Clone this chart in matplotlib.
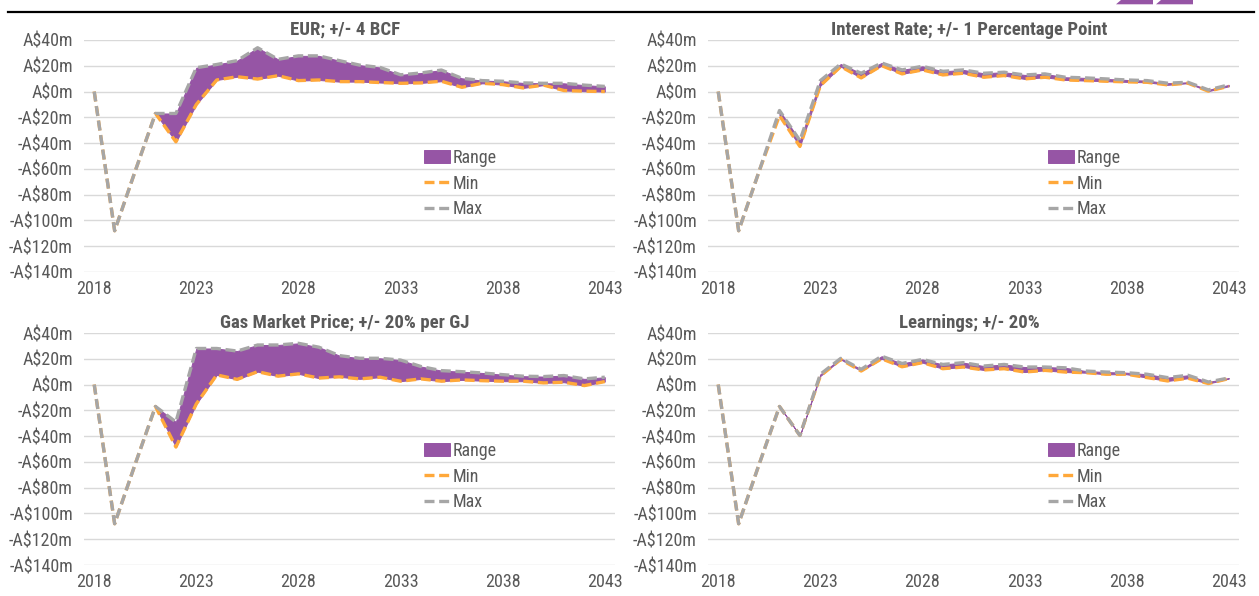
import matplotlib
matplotlib.use("Agg")
import matplotlib.pyplot as plt
from matplotlib import font_manager
from matplotlib.patches import Polygon
from matplotlib.lines import Line2D
from matplotlib.ticker import FuncFormatter, MultipleLocator

# ---------------- data ----------------
years = list(range(2018, 2044))
range_start = 2021  # first year of the sensitivity range series

eur_min = [0, -108, -62, -17, -39, -10, 9, 11.5, 9.7, 12.3, 8.5, 9, 7.7, 7.7, 7, 6.4,
           6.7, 8, 3.3, 6.4, 5.4, 2.8, 5, 0.8, 0.3, 0]
eur_max = [0, -108, -62, -17, -17, 18.5, 21, 24, 34, 25, 27.7, 27.7, 24, 20.5, 18.7, 13,
           14.4, 16.7, 10.3, 8.5, 8, 6.7, 6.4, 6.4, 5, 4]

rate_min = [0, -108, -62, -18.6, -42.6, 4.6, 19.4, 10.6, 20.1, 13.7, 16.8, 12.9, 14.2, 11.1,
            12.4, 9.8, 11.1, 9.0, 8.5, 8.0, 7.5, 7.2, 5.2, 6.5, 0.3, 4.1]
rate_max = [0, -108, -62, -14.7, -38, 8.5, 21.4, 14.2, 22.2, 16.8, 19.6, 15.7, 16.8, 14.2,
            15, 12.9, 13.7, 11.1, 10.6, 9.8, 9.0, 8.5, 6.5, 7.2, 1.3, 5.2]

gas_min = [0, -108, -62, -17, -48.5, -15, 7.5, 4, 10, 6.5, 8.3, 5, 6, 4.4, 5.7, 2.6,
           4.4, 2.6, 3.6, 3, 2.6, 2.6, 1.3, 1.8, -0.8, 2.3]
gas_max = [0, -108, -62, -17, -29, 28, 28, 26, 30.7, 30.7, 32, 29, 22.5, 20.4, 20.4, 19,
           14, 10.8, 10, 9, 7.7, 6.5, 6.2, 7, 4.4, 5.7]

learn_min = [0, -108, -62, -17, -39.5, 6.7, 19.5, 10.5, 20, 13.8, 17, 12.3, 13.6, 11.3,
             12.3, 9.7, 11, 9.7, 9.2, 8, 8, 5.4, 2.8, 4.9, 0.8, 4.6]
learn_max = [0, -108, -62, -17, -39.5, 8, 20.3, 11.8, 22, 16.4, 19.5, 15.6, 17, 14.4,
             15.6, 13.6, 13.6, 13, 10.5, 9.7, 9.2, 8, 5.4, 7.2, 2, 5.1]

titles = ["EUR; +/- 4 BCF", "Interest Rate; +/- 1 Percentage Point",
          "Gas Market Price; +/- 20% per GJ", "Learnings; +/- 20%"]
legend_labels = ["Range", "Min", "Max"]
x_ticks = [2018, 2023, 2028, 2033, 2038, 2043]

# ---------------- style ----------------
def pick_font():
    names = {f.name for f in font_manager.fontManager.ttflist}
    for n in ["Liberation Sans Narrow", "Arial Narrow", "Roboto Condensed",
              "Liberation Sans"]:
        if n in names:
            return n
    return "DejaVu Sans"

FONT = pick_font()
NARROW = FONT in ("Liberation Sans Narrow", "Arial Narrow", "Roboto Condensed")
FS = 13 if NARROW else 10.5
plt.rcParams["font.family"] = [FONT, "DejaVu Sans"]

PURPLE = "#9655A5"
ORANGE = "#FFA83A"
GRAY = "#A6A6A6"
TXT = "#595959"
GRID = "#D9D9D9"

W, H = 1259, 596
fig = plt.figure(figsize=(W / 100, H / 100), dpi=100)

# axes boxes in pixels: (left, top, right, bottom)
boxes = [(84, 40, 615, 272), (708, 40, 1239, 272),
         (84, 333, 615, 565), (708, 333, 1239, 565)]
series = [(eur_min, eur_max), (rate_min, rate_max),
          (gas_min, gas_max), (learn_min, learn_max)]


def fmt(v, pos):
    v = int(round(v))
    return f"A${v}m" if v >= 0 else f"-A${-v}m"


for (l, t, r, b), (smin, smax), title in zip(boxes, series, titles):
    ax = fig.add_axes([l / W, 1 - b / H, (r - l) / W, (b - t) / H])
    ax.set_xlim(2017.5, 2043.5)
    ax.set_ylim(-140, 40)
    ax.yaxis.set_major_locator(MultipleLocator(20))
    ax.yaxis.set_major_formatter(FuncFormatter(fmt))
    ax.set_xticks(x_ticks)
    ax.grid(axis="y", color=GRID, lw=1.0)
    ax.set_axisbelow(True)
    for s in ax.spines.values():
        s.set_visible(False)
    ax.tick_params(length=0, labelsize=FS, colors=TXT, pad=8)
    ax.tick_params(axis="x", pad=6)

    where = [y >= range_start for y in years]
    ax.fill_between(years, smin, smax, where=where, color=PURPLE, lw=0.7,
                    edgecolor=PURPLE, label=legend_labels[0], zorder=2)
    ax.plot(years, smin, color=ORANGE, lw=2.4, dashes=(3.0, 1.4),
            label=legend_labels[1], zorder=3)
    ax.plot(years, smax, color=GRAY, lw=2.4, dashes=(3.0, 1.4),
            label=legend_labels[2], zorder=4)

    ax.text(0.4915, 1.045, title, transform=ax.transAxes, ha="center", va="center",
            fontsize=FS + 0.5, fontweight="bold", color=TXT)

    leg = ax.legend(loc="upper left", bbox_to_anchor=(0.64, 0.53), frameon=False,
                    fontsize=FS, handlelength=1.45, handletextpad=0.15,
                    labelspacing=0.42, borderpad=0, borderaxespad=0)
    for txt in leg.get_texts():
        txt.set_color(TXT)

# top rule and logo fragment
fig.add_artist(Line2D([8 / W, 1254 / W], [1 - 11.5 / H, 1 - 11.5 / H],
                      color="black", lw=1.6))
for x0 in (1116, 1156):
    pts = [(x0, 4.3), (x0 + 5, 0), (x0 + 37, 0), (x0 + 37, 4.3)]
    fig.add_artist(Polygon([(px / W, 1 - py / H) for px, py in pts], closed=True,
                           color=PURPLE, lw=0))

fig.savefig("out.png", dpi=100)
